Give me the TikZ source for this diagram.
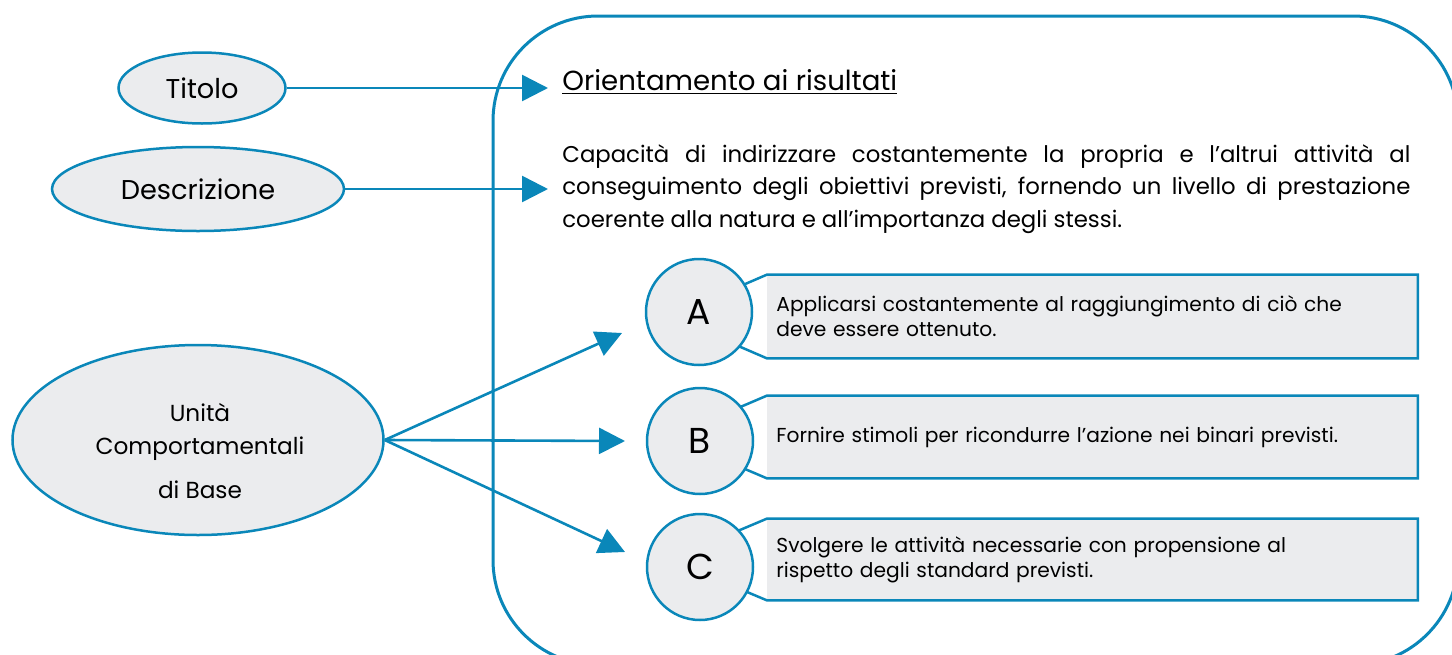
\documentclass[tikz,border=0pt]{standalone}
\usepackage{fontspec}
\setmainfont{Poppins}
\usetikzlibrary{shapes.geometric}
\usetikzlibrary{arrows.meta}
\usetikzlibrary{positioning}

\definecolor{bordoblu}{HTML}{0A87B9}
\definecolor{grigiochiaro}{HTML}{EBECEE}

\tikzset{
    ovale/.style={ellipse, draw=bordoblu, fill=grigiochiaro, line width=1.25pt, inner sep=0pt, align=center},
    freccia/.style={draw=bordoblu, line width=1.3pt, -{Triangle[length=13pt, width=13pt]}},
    lettera/.style={circle, draw=bordoblu, fill=grigiochiaro, line width=1.25pt, minimum size=53pt, inner sep=0pt, font=\fontsize{18}{20}\selectfont},
    corpo/.style={rectangle, fill=grigiochiaro, anchor=west, minimum width=325pt, text width=316pt, inner xsep=4.5pt, inner ysep=0pt, align=left, font=\fontsize{10.1}{12.5}\selectfont},
    bordo/.style={draw=bordoblu, line width=1.25pt, line join=miter},
}

\begin{document}
\begin{tikzpicture}[x=0.5pt, y=-0.5pt]
    \useasboundingbox (0,0) rectangle (1452,654);
    \clip (0,0) rectangle (1452,654);

    % riquadro grande
    \draw [bordo, line width=1.5pt, rounded corners=52.5pt] (493,16) rectangle (1458,665);

    % ovali a sinistra
    \node [ovale, minimum width=83.5pt, minimum height=35.5pt, font=\fontsize{13.6}{16}\selectfont] (ovTitolo) at (202,88) {Titolo};
    \node [ovale, minimum width=146pt, minimum height=42pt, font=\fontsize{13.6}{16}\selectfont] (ovDescr) at (198,189) {Descrizione};
    \node [ovale, minimum width=185.5pt, minimum height=95pt] (ovUnita) at (198,440) {};
    \node [align=center, inner sep=0pt, font=\fontsize{11.6}{16.5}\selectfont] (testoUnita) at (200,451) {Unità\\Comportamentali\\[5.5pt]di Base};

    % testi a destra
    \node [anchor=base west, inner sep=0pt, font=\fontsize{13.8}{16}\selectfont] (testoTitolo) at (562,90) {\underline{Orientamento ai risultati}};
    \node [anchor=base west, inner sep=0pt, text width=424pt, align=justify, font=\fontsize{11.4}{16.25}\selectfont] (testoDescr) at (562,162)
        {Capacità di indirizzare costantemente la propria e l’altrui attività al\linebreak conseguimento degli obiettivi previsti, fornendo un livello di prestazione\linebreak coerente alla natura e all’importanza degli stessi.};

    \coordinate (puntaTitolo) at (548,88);
    \coordinate (puntaDescr) at (548,189);
    \draw [freccia] (ovTitolo.east) -- (puntaTitolo);
    \draw [freccia] (ovDescr.east) -- (puntaDescr);

    % unita comportamentali
    \node [corpo, minimum height=41.5pt] (boxA) at (767,316.5) {Applicarsi costantemente al raggiungimento di ciò che\\deve essere ottenuto.};
    \node [corpo, minimum width=323pt, minimum height=41pt] (boxB) at (767,437) {Fornire stimoli per ricondurre l’azione nei binari previsti.};
    \node [corpo, minimum width=323pt, minimum height=40.5pt] (boxC) at (767,559.5) {Svolgere le attività necessarie con propensione al\\rispetto degli standard previsti.};

    \coordinate [left=48.5pt of boxA.west] (puntaA);
    \coordinate [left=48.5pt of boxB.west] (puntaB);
    \coordinate [left=48.5pt of boxC.west] (puntaC);
    \draw [bordo] (boxA.north west) -- (boxA.north east) -- (boxA.south east) -- (boxA.south west) -- (puntaA) -- cycle;
    \draw [bordo] (boxB.north west) -- (boxB.north east) -- (boxB.south east) -- (boxB.south west) -- (puntaB) -- cycle;
    \draw [bordo] (boxC.north west) -- (boxC.north east) -- (boxC.south east) -- (boxC.south west) -- (puntaC) -- cycle;

    \node [lettera] (circA) at (699,312) {A};
    \node [lettera] (circB) at (700,441) {B};
    \node [lettera] (circC) at (700,567) {C};

    \coordinate (frecciaA) at (622,333);
    \coordinate (frecciaB) at (625,441);
    \coordinate (frecciaC) at (625,552);
    \draw [freccia] (ovUnita.east) -- (frecciaA);
    \draw [freccia] (ovUnita.east) -- (frecciaB);
    \draw [freccia] (ovUnita.east) -- (frecciaC);
\end{tikzpicture}
\end{document}
